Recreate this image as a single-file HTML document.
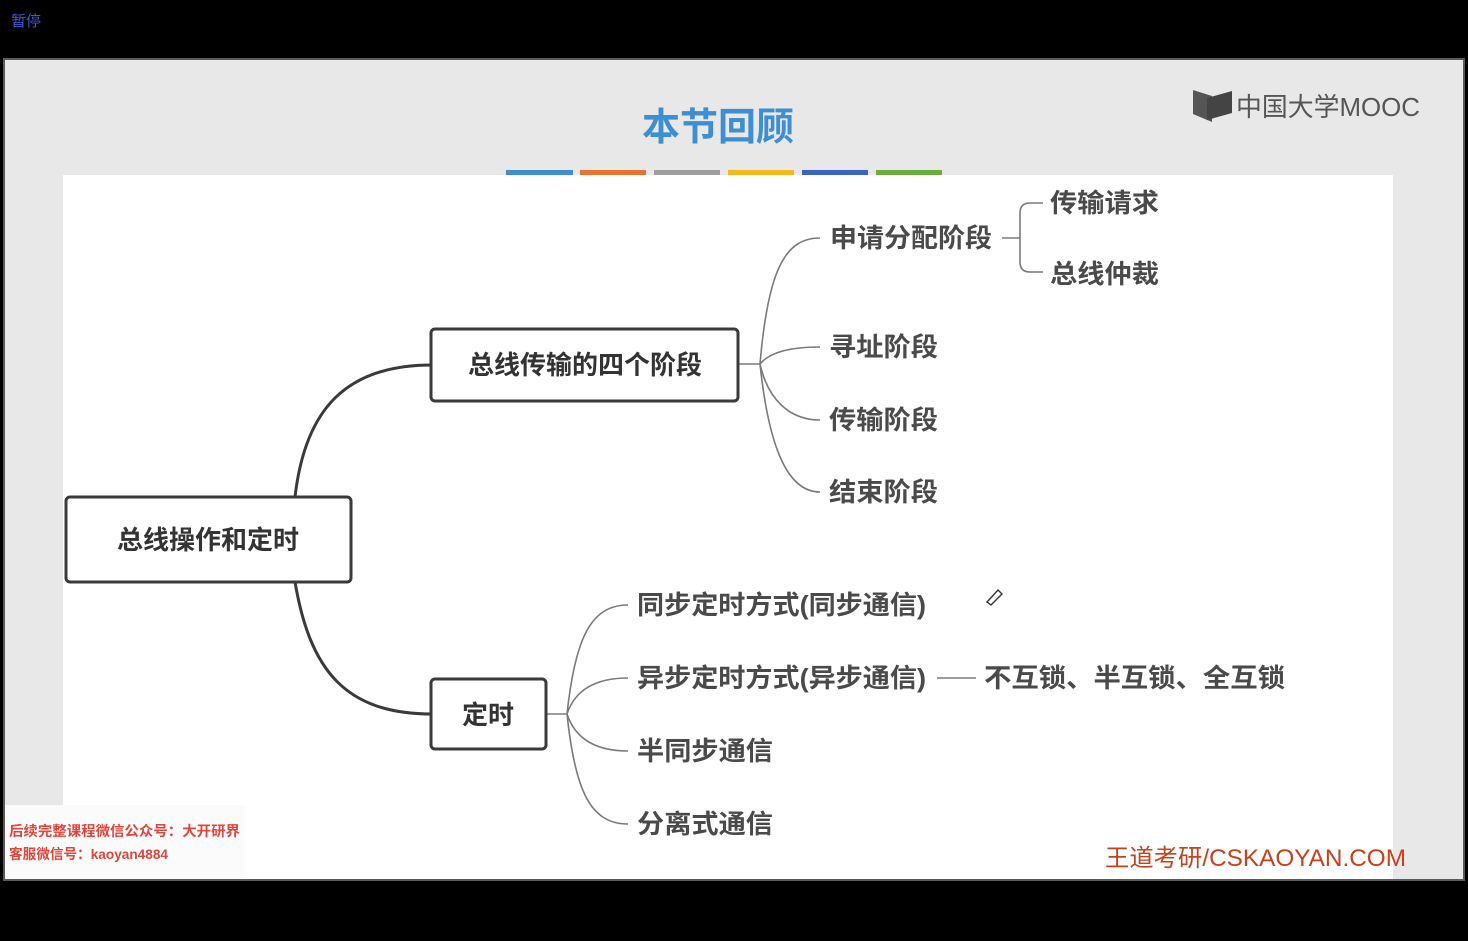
<!DOCTYPE html>
<html><head><meta charset="utf-8"><style>
html,body{margin:0;padding:0;background:#000;width:1468px;height:941px;overflow:hidden}
svg{display:block}
text{font-family:"Liberation Sans","Noto Sans CJK SC",sans-serif}
</style></head><body>
<svg width="1468" height="941" xmlns="http://www.w3.org/2000/svg">
<rect x="0" y="0" width="1468" height="941" fill="#000"/>
<text x="11" y="26" font-size="15" fill="#3b5bd6">暂停</text>
<rect x="3" y="58" width="1462" height="823" fill="#5a5a5a"/>
<rect x="5" y="60" width="1458" height="819" fill="#e8e8e8"/>
<rect x="63" y="175" width="1330" height="704" fill="#ffffff"/>
<rect x="5" y="805" width="240" height="74" fill="#fbfbfb"/>
<text x="718" y="140" font-size="38" fill="#3d8fd1" text-anchor="middle" font-weight="bold">本节回顾</text>
<rect x="506" y="170" width="67" height="5" fill="#3d8fd1"/>
<rect x="580" y="170" width="66" height="5" fill="#e8732e"/>
<rect x="654" y="170" width="66" height="5" fill="#9e9e9e"/>
<rect x="728" y="170" width="66" height="5" fill="#f4b81c"/>
<rect x="802" y="170" width="66" height="5" fill="#3b63c4"/>
<rect x="876" y="170" width="66" height="5" fill="#6aae3e"/>
<!-- logo -->
<path d="M1193 90 L1212 96 L1212 122 L1193 114 Z" fill="#555"/>
<path d="M1207 98 L1232 91 L1232 113 L1207 120 Z" fill="#444"/>
<text x="1236" y="116" font-size="26" fill="#555" textLength="184" lengthAdjust="spacingAndGlyphs">中国大学MOOC</text>
<!-- connectors -->
<g fill="none" stroke="#3a3a3a" stroke-width="3">
<path d="M295,497 C305,410 345,365 432,365"/>
<path d="M295,582 C310,670 345,714 432,714"/>
</g>
<g fill="none" stroke="#7a7a7a" stroke-width="1.6">
<path d="M738,364 L760,364"/>
<path d="M760,364 C768,270 785,238 820,238"/>
<path d="M760,364 C770,352 790,347 820,347"/>
<path d="M760,364 C768,400 790,420 820,420"/>
<path d="M760,364 C768,440 785,492 820,492"/>
<path d="M546,714 L567,714"/>
<path d="M567,714 C575,640 590,605 628,605"/>
<path d="M567,714 C575,690 595,678 628,678"/>
<path d="M567,714 C575,738 595,751 628,751"/>
<path d="M567,714 C575,790 590,824 628,824"/>
<path d="M1002,238 L1020,238"/>
<path d="M1043,203 L1030,203 Q1020,203 1020,213 L1020,262 Q1020,272 1030,272 L1043,272"/>
<path d="M937,678 L976,678"/>
</g>
<!-- nodes -->
<g fill="#fff" stroke="#3a3a3a" stroke-width="3">
<rect x="66" y="497" width="285" height="85" rx="4"/>
<rect x="431" y="329" width="307" height="72" rx="4"/>
<rect x="431" y="679" width="115" height="70" rx="4"/>
</g>
<g fill="#333" font-size="26" font-weight="bold">
<text x="208" y="549" text-anchor="middle">总线操作和定时</text>
<text x="585" y="374" text-anchor="middle">总线传输的四个阶段</text>
<text x="488" y="724" text-anchor="middle">定时</text>
</g>
<g fill="#4a4a4a" font-size="26" font-weight="bold">
<text x="830" y="247" textLength="162" lengthAdjust="spacingAndGlyphs">申请分配阶段</text>
<text x="1050" y="212" textLength="109" lengthAdjust="spacingAndGlyphs">传输请求</text>
<text x="1050" y="283" textLength="109" lengthAdjust="spacingAndGlyphs">总线仲裁</text>
<text x="829" y="356" textLength="109" lengthAdjust="spacingAndGlyphs">寻址阶段</text>
<text x="829" y="429" textLength="109" lengthAdjust="spacingAndGlyphs">传输阶段</text>
<text x="829" y="501" textLength="109" lengthAdjust="spacingAndGlyphs">结束阶段</text>
<text x="637" y="614" textLength="289" lengthAdjust="spacingAndGlyphs">同步定时方式(同步通信)</text>
<text x="637" y="687" textLength="289" lengthAdjust="spacingAndGlyphs">异步定时方式(异步通信)</text>
<text x="984" y="687" textLength="301" lengthAdjust="spacingAndGlyphs">不互锁、半互锁、全互锁</text>
<text x="637" y="760" textLength="136" lengthAdjust="spacingAndGlyphs">半同步通信</text>
<text x="637" y="833" textLength="136" lengthAdjust="spacingAndGlyphs">分离式通信</text>
</g>
<path d="M987,602 L998,590 L1002,594 L991,605 Z" fill="none" stroke="#333" stroke-width="1.4"/>
<text x="9" y="836" font-size="14" fill="#e0443a" font-weight="bold" textLength="231" lengthAdjust="spacingAndGlyphs">后续完整课程微信公众号：大开研界</text>
<text x="9" y="859" font-size="14" fill="#e0443a" font-weight="bold" textLength="159" lengthAdjust="spacingAndGlyphs">客服微信号：kaoyan4884</text>
<text x="1105" y="866" font-size="24" fill="#c8401c" textLength="301" lengthAdjust="spacingAndGlyphs">王道考研/CSKAOYAN.COM</text>
</svg>
</body></html>
